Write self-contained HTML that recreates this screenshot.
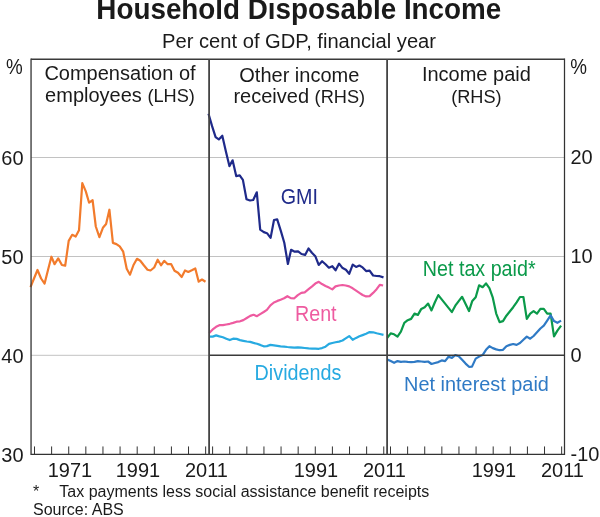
<!DOCTYPE html>
<html><head><meta charset="utf-8"><title>Household Disposable Income</title>
<style>
html,body{margin:0;padding:0;background:#fff;}
body{width:600px;height:517px;overflow:hidden;font-family:"Liberation Sans",sans-serif;}
svg{display:block;will-change:transform;}
svg text{font-family:"Liberation Sans",sans-serif;}
</style></head><body>
<svg width="600" height="517" viewBox="0 0 600 517">
<rect width="600" height="517" fill="#ffffff"/>
<line x1="31.05" y1="157.5" x2="564.5" y2="157.5" stroke="#c2c2c2" stroke-width="1"/>
<line x1="31.05" y1="256.5" x2="564.5" y2="256.5" stroke="#c2c2c2" stroke-width="1"/>
<line x1="31.05" y1="355.3" x2="209.1" y2="355.3" stroke="#c2c2c2" stroke-width="1"/>
<line x1="34.50" y1="446.45" x2="34.50" y2="454.45" stroke="#333" stroke-width="1"/>
<line x1="51.61" y1="446.45" x2="51.61" y2="454.45" stroke="#333" stroke-width="1"/>
<line x1="68.73" y1="446.45" x2="68.73" y2="454.45" stroke="#333" stroke-width="1"/>
<line x1="85.84" y1="446.45" x2="85.84" y2="454.45" stroke="#333" stroke-width="1"/>
<line x1="102.96" y1="446.45" x2="102.96" y2="454.45" stroke="#333" stroke-width="1"/>
<line x1="120.07" y1="446.45" x2="120.07" y2="454.45" stroke="#333" stroke-width="1"/>
<line x1="137.19" y1="446.45" x2="137.19" y2="454.45" stroke="#333" stroke-width="1"/>
<line x1="154.31" y1="446.45" x2="154.31" y2="454.45" stroke="#333" stroke-width="1"/>
<line x1="171.42" y1="446.45" x2="171.42" y2="454.45" stroke="#333" stroke-width="1"/>
<line x1="188.53" y1="446.45" x2="188.53" y2="454.45" stroke="#333" stroke-width="1"/>
<line x1="205.65" y1="446.45" x2="205.65" y2="454.45" stroke="#333" stroke-width="1"/>
<line x1="212.60" y1="446.45" x2="212.60" y2="454.45" stroke="#333" stroke-width="1"/>
<line x1="229.72" y1="446.45" x2="229.72" y2="454.45" stroke="#333" stroke-width="1"/>
<line x1="246.83" y1="446.45" x2="246.83" y2="454.45" stroke="#333" stroke-width="1"/>
<line x1="263.94" y1="446.45" x2="263.94" y2="454.45" stroke="#333" stroke-width="1"/>
<line x1="281.06" y1="446.45" x2="281.06" y2="454.45" stroke="#333" stroke-width="1"/>
<line x1="298.17" y1="446.45" x2="298.17" y2="454.45" stroke="#333" stroke-width="1"/>
<line x1="315.29" y1="446.45" x2="315.29" y2="454.45" stroke="#333" stroke-width="1"/>
<line x1="332.40" y1="446.45" x2="332.40" y2="454.45" stroke="#333" stroke-width="1"/>
<line x1="349.52" y1="446.45" x2="349.52" y2="454.45" stroke="#333" stroke-width="1"/>
<line x1="366.63" y1="446.45" x2="366.63" y2="454.45" stroke="#333" stroke-width="1"/>
<line x1="383.75" y1="446.45" x2="383.75" y2="454.45" stroke="#333" stroke-width="1"/>
<line x1="390.50" y1="446.45" x2="390.50" y2="454.45" stroke="#333" stroke-width="1"/>
<line x1="407.62" y1="446.45" x2="407.62" y2="454.45" stroke="#333" stroke-width="1"/>
<line x1="424.73" y1="446.45" x2="424.73" y2="454.45" stroke="#333" stroke-width="1"/>
<line x1="441.85" y1="446.45" x2="441.85" y2="454.45" stroke="#333" stroke-width="1"/>
<line x1="458.96" y1="446.45" x2="458.96" y2="454.45" stroke="#333" stroke-width="1"/>
<line x1="476.07" y1="446.45" x2="476.07" y2="454.45" stroke="#333" stroke-width="1"/>
<line x1="493.19" y1="446.45" x2="493.19" y2="454.45" stroke="#333" stroke-width="1"/>
<line x1="510.31" y1="446.45" x2="510.31" y2="454.45" stroke="#333" stroke-width="1"/>
<line x1="527.42" y1="446.45" x2="527.42" y2="454.45" stroke="#333" stroke-width="1"/>
<line x1="544.53" y1="446.45" x2="544.53" y2="454.45" stroke="#333" stroke-width="1"/>
<line x1="561.65" y1="446.45" x2="561.65" y2="454.45" stroke="#333" stroke-width="1"/>
<polyline points="30.5,287.1 34.0,278.5 37.5,270.0 41.1,278.5 44.6,283.6 48.0,270.0 51.4,256.7 54.6,264.2 58.2,258.4 61.9,265.0 65.2,265.7 68.7,240.9 72.2,234.8 75.7,236.6 79.0,230.3 82.3,183.1 85.8,191.4 89.1,202.7 92.6,200.2 95.8,226.5 99.4,237.1 102.9,227.8 106.1,224.0 109.4,209.7 112.9,242.9 116.4,244.1 119.7,246.4 123.2,251.7 126.7,268.8 130.0,274.7 133.5,265.0 137.0,258.8 140.3,260.8 143.8,265.3 147.5,269.7 150.5,270.5 154.2,267.5 157.7,259.7 161.0,265.3 164.2,260.8 167.7,264.2 171.2,264.2 174.5,270.8 178.0,272.8 181.7,277.0 185.0,270.5 188.3,272.0 191.8,270.3 195.3,268.5 198.7,281.7 202.0,279.5 205.5,281.7" fill="none" stroke="#f27b2c" stroke-width="2.2" stroke-linejoin="round" stroke-linecap="butt"/>
<polyline points="209.2,336.6 212.7,336.6 216.1,335.4 219.4,336.4 222.9,337.3 226.3,338.7 229.8,340.1 233.1,338.7 236.6,338.9 240.0,340.1 243.3,340.8 246.8,341.5 250.2,341.9 253.5,342.9 257.0,343.8 260.2,344.9 263.7,346.3 266.9,346.1 270.4,344.9 273.9,345.4 277.4,345.9 280.6,346.3 284.1,346.6 287.4,347.0 290.8,347.3 294.3,347.7 297.8,347.3 301.3,347.6 304.7,348.0 308.6,348.4 312.1,348.6 315.3,348.6 318.8,348.8 322.0,348.1 325.5,346.7 329.0,343.9 332.3,343.0 335.5,342.3 339.0,341.6 342.5,340.5 345.7,338.4 349.2,336.1 352.7,339.8 356.1,337.9 359.4,336.3 362.6,335.1 366.1,333.7 369.6,332.1 373.1,332.3 376.6,333.3 379.8,334.0 383.5,334.9" fill="none" stroke="#27aae1" stroke-width="2.2" stroke-linejoin="round" stroke-linecap="butt"/>
<polyline points="209.2,333.1 212.7,329.4 216.1,326.8 219.4,325.2 222.9,325.2 226.3,324.5 229.8,323.8 233.1,322.9 236.6,321.7 240.0,321.3 243.3,320.1 246.8,318.0 250.2,315.9 253.5,314.8 257.0,316.2 260.2,314.1 263.7,312.0 266.9,309.9 270.4,305.3 273.9,302.5 277.4,300.9 280.6,299.7 284.1,298.3 287.4,296.2 290.8,298.1 294.3,298.3 297.8,295.1 301.3,292.9 304.7,292.3 308.6,289.2 312.1,286.4 315.3,283.6 318.8,281.8 322.0,284.1 325.5,285.9 329.0,287.6 332.3,289.4 335.5,286.4 339.0,285.5 342.5,285.0 345.7,285.5 349.2,286.4 352.7,288.3 356.1,290.6 359.4,292.9 362.6,295.0 366.1,296.4 369.6,296.1 373.1,292.9 376.6,289.2 379.8,284.8 383.1,285.5" fill="none" stroke="#ee5ba0" stroke-width="2.2" stroke-linejoin="round" stroke-linecap="butt"/>
<polyline points="208.5,113.8 212.0,125.9 215.6,137.2 218.8,139.4 222.3,135.7 225.9,151.5 229.4,166.1 232.6,160.3 236.2,176.1 239.7,175.4 242.9,179.9 246.5,199.2 250.0,200.5 253.2,200.0 256.8,192.3 260.2,229.6 263.8,232.1 267.0,233.2 270.6,237.9 274.0,220.0 277.2,219.4 280.9,231.1 284.3,242.8 287.9,264.0 291.1,249.8 294.7,251.7 298.1,251.3 301.5,254.0 305.1,254.9 308.5,248.5 311.9,252.8 315.3,256.2 318.7,264.9 322.1,261.2 325.5,264.2 328.9,267.7 332.3,266.2 335.6,270.3 339.1,263.6 342.6,268.1 345.9,269.8 349.2,273.8 352.7,264.6 356.1,266.9 359.4,265.5 362.6,267.4 366.1,271.1 369.6,270.6 373.1,275.5 376.6,276.0 379.8,276.2 383.5,277.4" fill="none" stroke="#1f2a8a" stroke-width="2.2" stroke-linejoin="round" stroke-linecap="butt"/>
<polyline points="387.3,337.7 390.7,333.4 394.1,334.3 397.5,336.6 400.9,331.7 404.3,322.8 407.7,320.2 411.1,318.9 414.5,313.6 417.9,314.9 421.3,308.9 424.7,307.2 428.1,303.6 431.5,310.4 434.9,302.3 438.3,295.1 441.7,299.4 445.1,303.6 448.5,307.9 451.9,312.1 455.3,305.7 458.7,301.1 462.1,296.8 465.6,304.0 469.0,311.1 472.3,300.9 475.7,297.2 479.1,285.3 482.6,287.2 486.0,283.4 489.4,288.1 492.8,297.7 496.2,313.6 499.6,322.1 503.0,321.1 506.4,315.7 509.8,311.5 513.2,307.2 516.6,302.3 520.0,297.0 523.4,297.0 526.8,318.9 530.2,313.6 533.6,311.1 537.0,313.6 540.4,308.9 543.8,308.9 547.2,313.6 550.6,313.6 554.0,336.4 557.4,330.6 561.1,325.7" fill="none" stroke="#0b9a4a" stroke-width="2.2" stroke-linejoin="round" stroke-linecap="butt"/>
<polyline points="387.3,359.4 390.7,361.1 394.1,362.8 397.5,361.1 400.9,361.9 404.3,361.5 407.7,361.9 411.1,362.1 414.5,361.9 417.9,361.1 421.3,361.5 424.7,361.9 428.1,361.5 431.5,364.0 434.9,363.0 438.3,362.1 441.7,360.4 445.1,361.1 448.5,356.8 451.9,357.9 455.3,355.1 458.7,356.2 462.1,359.8 465.6,363.6 469.0,366.8 472.0,366.6 475.7,358.6 479.1,356.6 482.6,355.1 486.0,349.8 489.4,346.2 492.8,348.1 496.2,349.4 499.6,350.2 503.0,349.8 506.4,346.2 509.8,344.9 513.2,344.0 516.6,344.9 520.0,343.0 523.4,339.8 526.8,336.6 530.2,338.7 533.6,336.0 537.0,332.3 540.4,328.5 543.8,325.7 547.2,320.6 550.6,315.3 554.0,321.1 557.4,322.8 561.1,320.6" fill="none" stroke="#2f7ac5" stroke-width="2.2" stroke-linejoin="round" stroke-linecap="butt"/>
<line x1="209.1" y1="355.3" x2="564.5" y2="355.3" stroke="#3a3a3a" stroke-width="1.5"/>
<line x1="31.05" y1="58.6" x2="31.05" y2="455.05" stroke="#3a3a3a" stroke-width="1.35"/>
<line x1="564.5" y1="58.6" x2="564.5" y2="455.05" stroke="#333" stroke-width="1.25"/>
<line x1="31.05" y1="59.2" x2="564.5" y2="59.2" stroke="#3a3a3a" stroke-width="1.35"/>
<line x1="31.05" y1="454.45" x2="564.5" y2="454.45" stroke="#333" stroke-width="1.25"/>
<line x1="209.1" y1="59.2" x2="209.1" y2="454.45" stroke="#444" stroke-width="1.8"/>
<line x1="387.1" y1="59.2" x2="387.1" y2="454.45" stroke="#444" stroke-width="1.8"/>
<text transform="translate(298.8,19.4) scale(1,1.04)" font-size="27.82" text-anchor="middle" fill="#1a1a1a" font-weight="bold" >Household Disposable Income</text>
<text x="299.05" y="47.8" font-size="20.15" text-anchor="middle" fill="#1a1a1a" font-weight="normal" >Per cent of GDP, financial year</text>
<text transform="translate(14.3,74.1) scale(0.94,1.085)" font-size="20" text-anchor="middle" fill="#1a1a1a" font-weight="normal" >%</text>
<text transform="translate(578.6,73.6) scale(0.94,1.085)" font-size="20" text-anchor="middle" fill="#1a1a1a" font-weight="normal" >%</text>
<text transform="translate(23.6,164.9) scale(1,1.055)" font-size="20" text-anchor="end" fill="#1a1a1a" font-weight="normal" >60</text>
<text transform="translate(23.6,263.9) scale(1,1.055)" font-size="20" text-anchor="end" fill="#1a1a1a" font-weight="normal" >50</text>
<text transform="translate(23.6,362.9) scale(1,1.055)" font-size="20" text-anchor="end" fill="#1a1a1a" font-weight="normal" >40</text>
<text transform="translate(23.6,461.9) scale(1,1.055)" font-size="20" text-anchor="end" fill="#1a1a1a" font-weight="normal" >30</text>
<text transform="translate(570.5,163.8) scale(1,1.055)" font-size="20" text-anchor="start" fill="#1a1a1a" font-weight="normal" >20</text>
<text transform="translate(570.5,262.8) scale(1,1.055)" font-size="20" text-anchor="start" fill="#1a1a1a" font-weight="normal" >10</text>
<text transform="translate(570.5,361.8) scale(1,1.055)" font-size="20" text-anchor="start" fill="#1a1a1a" font-weight="normal" >0</text>
<text transform="translate(570.5,460.8) scale(1,1.055)" font-size="20" text-anchor="start" fill="#1a1a1a" font-weight="normal" >-10</text>
<text transform="translate(69.9,476.6) scale(1,1.055)" font-size="20" text-anchor="middle" fill="#1a1a1a" font-weight="normal" >1971</text>
<text transform="translate(137.9,476.6) scale(1,1.055)" font-size="20" text-anchor="middle" fill="#1a1a1a" font-weight="normal" >1991</text>
<text transform="translate(206.4,476.6) scale(1,1.055)" font-size="20" text-anchor="middle" fill="#1a1a1a" font-weight="normal" >2011</text>
<text transform="translate(315.9,476.6) scale(1,1.055)" font-size="20" text-anchor="middle" fill="#1a1a1a" font-weight="normal" >1991</text>
<text transform="translate(384.4,476.6) scale(1,1.055)" font-size="20" text-anchor="middle" fill="#1a1a1a" font-weight="normal" >2011</text>
<text transform="translate(493.9,476.6) scale(1,1.055)" font-size="20" text-anchor="middle" fill="#1a1a1a" font-weight="normal" >1991</text>
<text transform="translate(562.4,476.6) scale(1,1.055)" font-size="20" text-anchor="middle" fill="#1a1a1a" font-weight="normal" >2011</text>
<text x="120" y="79.6" font-size="20" text-anchor="middle" fill="#1a1a1a" font-weight="normal" >Compensation of</text>
<text x="120" y="102.4" font-size="20" text-anchor="middle" fill="#1a1a1a">employees <tspan font-size="18.2">(LHS)</tspan></text>
<text x="299.3" y="81.6" font-size="20" text-anchor="middle" fill="#1a1a1a" font-weight="normal" >Other income</text>
<text x="299.3" y="103.3" font-size="20" text-anchor="middle" fill="#1a1a1a">received <tspan font-size="18.2">(RHS)</tspan></text>
<text x="476.4" y="81.4" font-size="20" text-anchor="middle" fill="#1a1a1a" font-weight="normal" >Income paid</text>
<text x="476.4" y="102.8" font-size="18.2" text-anchor="middle" fill="#1a1a1a" font-weight="normal" >(RHS)</text>
<text transform="translate(299.3,203.9) scale(0.985,1.07)" font-size="20" text-anchor="middle" fill="#1f2a8a" font-weight="normal" >GMI</text>
<text transform="translate(315.8,321.3) scale(0.985,1.07)" font-size="20" text-anchor="middle" fill="#ee5ba0" font-weight="normal" >Rent</text>
<text transform="translate(298,380) scale(0.99,1.07)" font-size="20" text-anchor="middle" fill="#27aae1" font-weight="normal" >Dividends</text>
<text transform="translate(479.2,276.3) scale(0.985,1.07)" font-size="20" text-anchor="middle" fill="#0b9a4a" font-weight="normal" >Net tax paid*</text>
<text transform="translate(476.5,390.8) scale(0.995,1.05)" font-size="20" text-anchor="middle" fill="#2f7ac5" font-weight="normal" >Net interest paid</text>
<text x="33" y="496.5" font-size="16" text-anchor="start" fill="#1a1a1a" font-weight="normal" >*</text>
<text x="59.3" y="496.5" font-size="16" text-anchor="start" fill="#1a1a1a" font-weight="normal" >Tax payments less social assistance benefit receipts</text>
<text x="33" y="514.8" font-size="16" text-anchor="start" fill="#1a1a1a" font-weight="normal" >Source: ABS</text>
</svg>
</body></html>
